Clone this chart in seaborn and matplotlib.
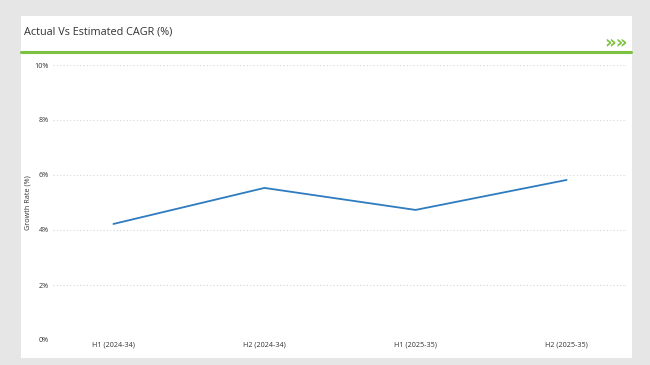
import pandas as pd
import seaborn as sns
import matplotlib.pyplot as plt
from matplotlib.patches import Rectangle
from matplotlib.lines import Line2D

# data
periods = ["H1 (2024-34)", "H2 (2024-34)", "H1 (2025-35)", "H2 (2025-35)"]
growth = [4.22, 5.53, 4.73, 5.82]
ytick_vals = [0, 2, 4, 6, 8, 10]

df = pd.DataFrame({"Period": periods, "Growth": growth})
df["pos"] = range(len(df))

sns.set_style("white")
plt.rcParams['font.family'] = ['Open Sans', 'DejaVu Sans']

fig = plt.figure(figsize=(6.5, 3.65), dpi=100)
fig.patch.set_facecolor("#e6e6e6")

# white card
fig.patches.append(Rectangle((21/650, 1-358/365), 611/650, 342/365,
                             transform=fig.transFigure, facecolor="white",
                             edgecolor="none", zorder=-5))
fig.lines.append(Line2D([21/650, 631/650], [1-52/365, 1-52/365],
                        transform=fig.transFigure, color="#7dc142", lw=2.2))
fig.text(24/650, 1-32/365, "Actual Vs Estimated CAGR (%)", fontsize=7.8,
         va="center", ha="left", color="#333333")
fig.text(628/650, 1-43/365, "\u00BB\u00BB", fontsize=13, va="center",
         ha="right", color="#7dc142", fontweight="bold", family=['DejaVu Sans'])

ax = fig.add_axes([53/650, 1-340/365, 574/650, 275/365])
ax.set_zorder(3)
ax.set_facecolor("none")
sns.lineplot(data=df, x="pos", y="Growth", ax=ax, color="#2e7bbf", lw=1.3)

ax.set_xlim(-0.4, 3.4)
ax.set_ylim(0, 10)
ax.set_xticks(df["pos"])
ax.set_xticklabels(periods, fontsize=5.2, color="#333333")
ax.set_yticks(ytick_vals)
ax.set_yticklabels([f"{v}%" for v in ytick_vals], fontsize=5.2, color="#333333")
ax.tick_params(axis="both", length=0, pad=3)
ax.tick_params(axis="x", pad=1)
ax.grid(axis="y", color="#d6d6d6", linestyle=(0, (1, 2)), lw=0.8)
ax.set_axisbelow(True)
for s in ax.spines.values():
    s.set_visible(False)
ax.set_xlabel("")
ax.set_ylabel("Growth Rate (%)", fontsize=5.2, color="#333333", labelpad=2)

plt.savefig("out.png", dpi=100, facecolor=fig.get_facecolor())
